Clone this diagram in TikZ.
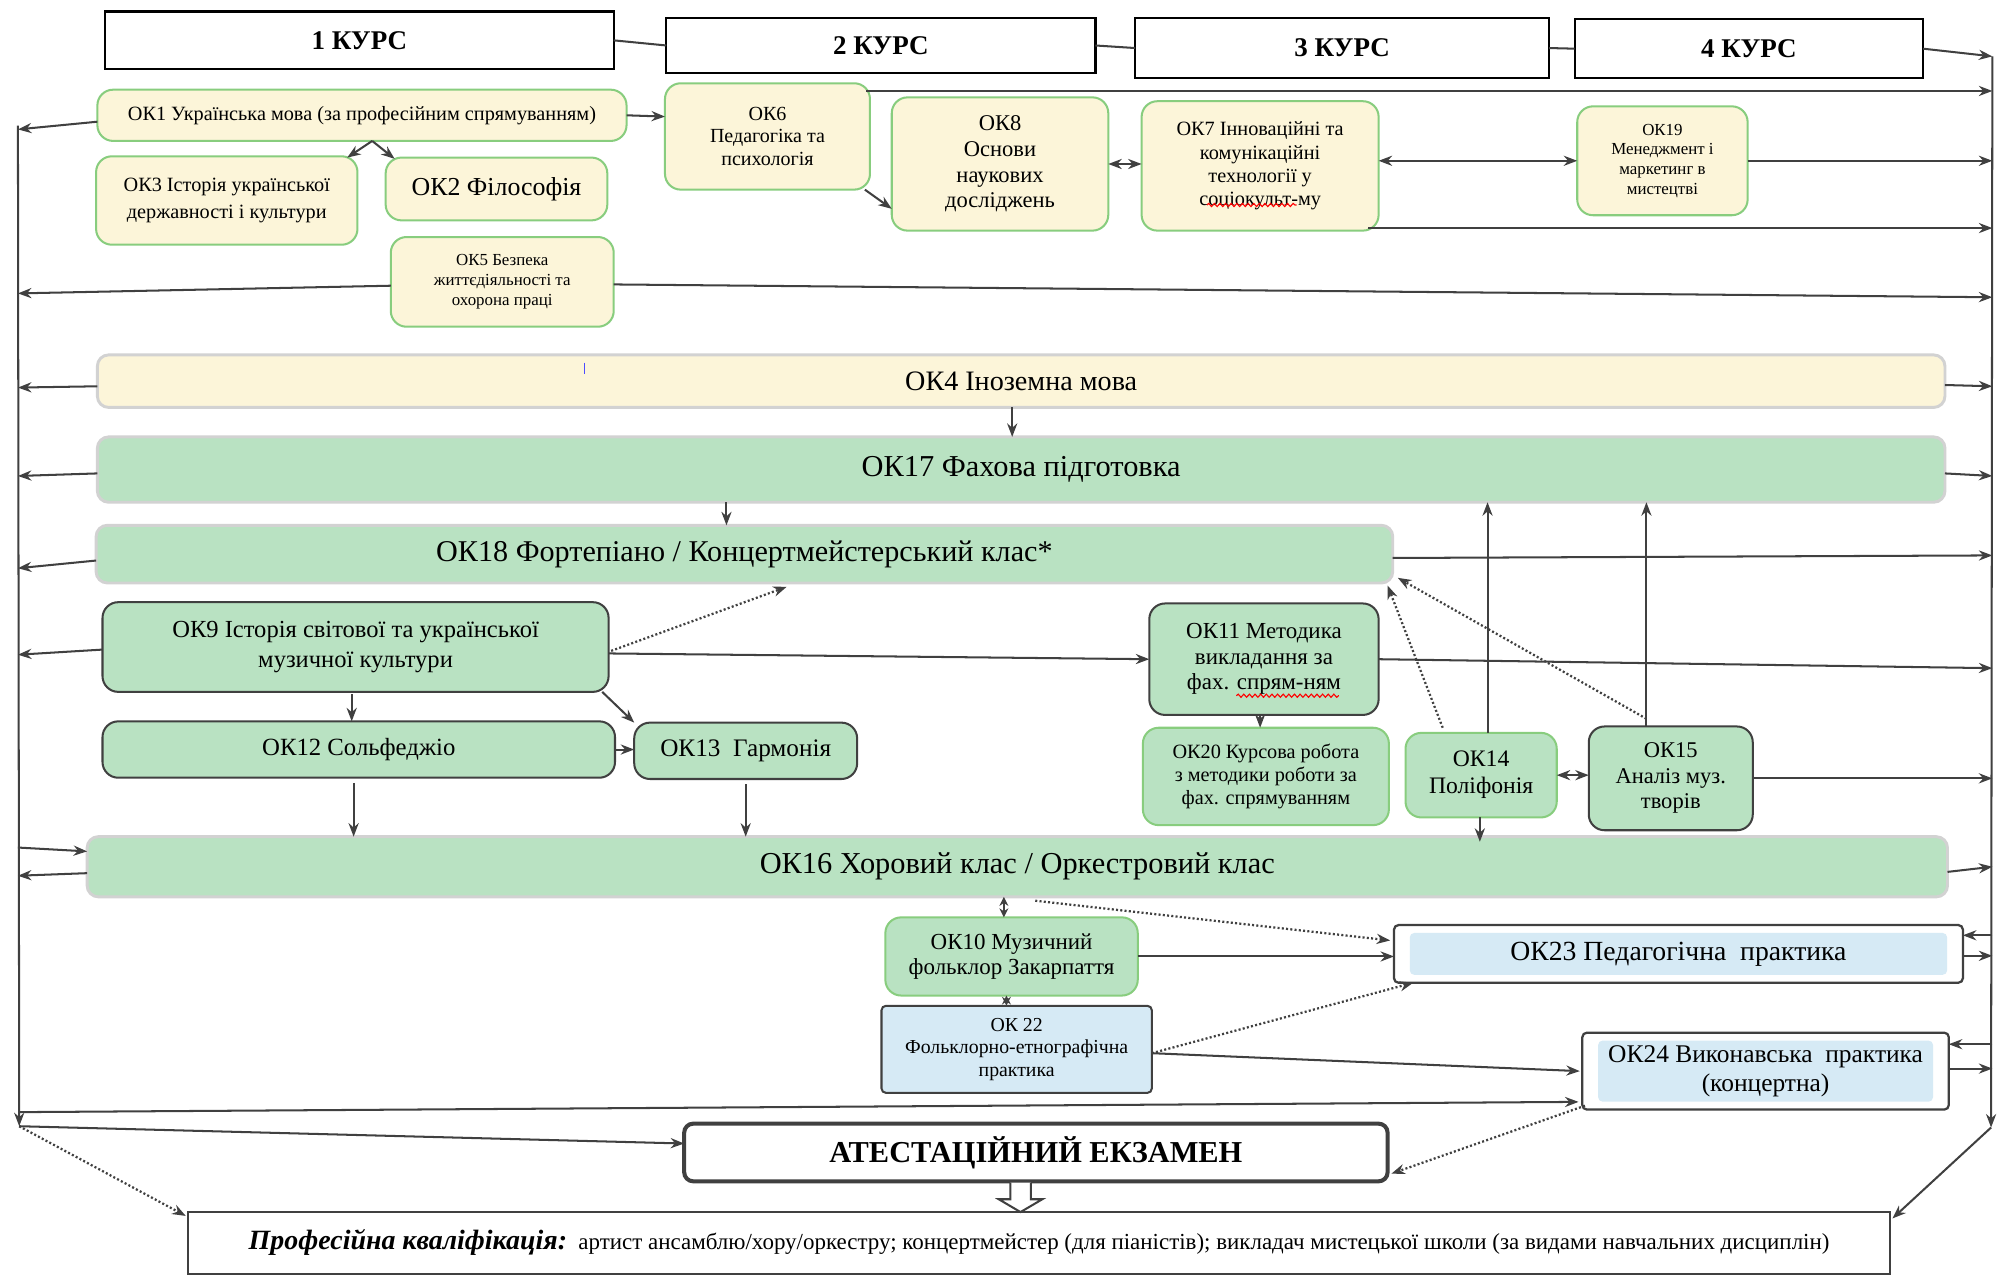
\documentclass[tikz,border=0pt]{standalone}
\usepackage{fontspec}
\setmainfont{Liberation Serif}
\usetikzlibrary{arrows.meta,calc,decorations.pathmorphing}
\definecolor{yfill}{HTML}{FCF5D9}
\definecolor{gborder}{HTML}{88CD7E}
\definecolor{gfill}{HTML}{B9E2C2}
\definecolor{bfill}{HTML}{D6EAF5}
\definecolor{lnc}{HTML}{404040}
\definecolor{barb}{HTML}{D2D2D2}
\newcommand\fsz[2]{\fontsize{#1}{#2}\selectfont}
\newcommand\OKbox[7]{\node[#1, minimum width={((#4)-(#2))*0.02cm}, minimum height={((#5)-(#3))*0.02cm}] (#6) at ({((#2)+(#4))/2},{((#3)+(#5))/2}) {#7};}
\tikzset{
  every node/.style={inner sep=0pt, outer sep=0pt, align=center},
  hdr/.style={draw=black, line width=1pt, fill=white, font=\bfseries\fsz{12}{14}},
  yb/.style={draw=gborder, line width=0.9pt, fill=yfill, rounded corners=7pt},
  gg/.style={draw=gborder, line width=0.9pt, fill=gfill, rounded corners=7pt},
  gk/.style={draw=lnc, line width=0.9pt, fill=gfill, rounded corners=7pt},
  ybar/.style={draw=barb, line width=1.3pt, fill=yfill, rounded corners=5pt},
  gbar/.style={draw=barb, line width=1.3pt, fill=gfill, rounded corners=5pt},
  bk/.style={draw=lnc, line width=0.9pt, fill=bfill, rounded corners=2pt},
  pk/.style={draw=lnc, line width=1pt, fill=white, rounded corners=2pt,
    path picture={\fill[bfill] ([xshift=7pt,yshift=-3.5pt]path picture bounding box.north west) rectangle ([xshift=-7pt,yshift=3.5pt]path picture bounding box.south east);}},
  exbox/.style={draw=lnc, line width=1.8pt, fill=white, rounded corners=4pt},
  prbox/.style={draw=lnc, line width=0.9pt, fill=white},
  conn/.style={draw=lnc, line width=0.9pt},
  arr/.style={conn, -{Stealth[length=6pt,width=4.5pt]}},
  darr/.style={conn, {Stealth[length=6pt,width=4.5pt]}-{Stealth[length=6pt,width=4.5pt]}},
  sdarr/.style={conn, {Stealth[length=4pt,width=4pt]}-{Stealth[length=4pt,width=4pt]}},
  dotarr/.style={arr, densely dotted, line width=1pt},
  wavy/.style={draw=red, line width=0.5pt, decorate, decoration={snake, amplitude=0.7pt, segment length=2.5pt}}
}
\begin{document}
\begin{tikzpicture}[x=0.02cm,y=-0.02cm]
\useasboundingbox (0,0) rectangle (1568,996);
\fill[white] (0,0) rectangle (1568,996);

% headers
\OKbox{hdr}{82}{9}{479}{54}{h1}{1 КУРС}
\OKbox{hdr}{520}{14}{855}{57}{h2}{2 КУРС}
\OKbox{hdr}{886}{14}{1209}{61}{h3}{3 КУРС}
\OKbox{hdr}{1229}{15}{1501}{61}{h4}{4 КУРС}

% top boxes
\OKbox{yb,font=\fsz{9}{11}}{76}{70}{489}{110}{ok1}{ОК1 Українська мова (за професійним спрямуванням)}
\OKbox{yb,font=\fsz{9}{12}}{75}{122}{279}{191}{ok3}{ОК3 Історія української\\державності і культури}
\OKbox{yb,font=\fsz{11.5}{13}}{301}{123}{474}{172}{ok2}{ОК2 Філософія}
\OKbox{yb,font=\fsz{7.5}{9}}{305}{185}{479}{255}{ok5}{ОК5 Безпека\\життєдіяльності та\\охорона праці}
\OKbox{yb,font=\fsz{8.9}{10}}{519}{65}{679}{148}{ok6}{ОК6\\Педагогіка та\\психологія}
\OKbox{yb,font=\fsz{10}{11.4}}{696}{76}{865}{180}{ok8}{ОК8\\Основи\\наукових\\досліджень}
\OKbox{yb,font=\fsz{9}{10.3}}{891}{79}{1076}{180}{ok7}{ОК7 Інноваційні та\\комунікаційні\\технології у\\соціокульт-му}
\OKbox{yb,font=\fsz{7.5}{8.7}}{1231}{83}{1364}{168}{ok19}{ОК19\\Менеджмент і\\маркетинг в\\мистецтві}

% bars
\OKbox{ybar,font=\fsz{12.5}{14}}{76}{277}{1518}{318}{ok4}{ОК4 Іноземна мова}
\OKbox{gbar,font=\fsz{13.5}{15}}{76}{341}{1518}{392}{ok17}{ОК17 Фахова підготовка}
\OKbox{gbar,font=\fsz{13.4}{15}}{75}{410}{1087}{455}{ok18}{ОК18 Фортепіано / Концертмейстерський клас*}
\OKbox{gbar,font=\fsz{13.5}{15}}{68}{653}{1520}{700}{ok16}{ОК16 Хоровий клас / Оркестровий клас}

% middle boxes
\OKbox{gk,font=\fsz{10.9}{13.5}}{80}{470}{475}{540}{ok9}{ОК9 Історія світової та української\\музичної культури}
\OKbox{gk,font=\fsz{11}{13}}{80}{563}{480}{607}{ok12}{ОК12 Сольфеджіо}
\OKbox{gk,font=\fsz{11.2}{13}}{495}{564}{669}{608}{ok13}{ОК13\ \ Гармонія}
\OKbox{gk,font=\fsz{10.2}{11.3}}{897}{471}{1076}{558}{ok11}{ОК11 Методика\\викладання за\\фах. спрям-ням}
\OKbox{gg,font=\fsz{9}{10}}{892}{568}{1084}{644}{ok20}{ОК20 Курсова робота\\з методики роботи за\\фах. спрямуванням}
\OKbox{gg,font=\fsz{10.5}{12}}{1097}{572}{1215}{638}{ok14}{ОК14\\Поліфонія}
\OKbox{gk,font=\fsz{10}{11.3}}{1240}{567}{1368}{648}{ok15}{ОК15\\Аналіз муз.\\творів}

% lower boxes
\OKbox{gg,font=\fsz{10.2}{11.3}}{691}{716}{888}{777}{ok10}{ОК10 Музичний\\фольклор Закарпаття}
\OKbox{bk,font=\fsz{8.8}{10}}{688}{785}{899}{853}{ok22}{ОК 22\\Фольклорно-етнографічна\\практика}
\OKbox{pk,font=\fsz{12.3}{13}}{1088}{722}{1532}{767}{ok23}{ОК23 Педагогічна\ \ практика}
\OKbox{pk,font=\fsz{11.3}{13}}{1235}{806}{1521}{866}{ok24}{ОК24 Виконавська\ \ практика\\(концертна)}
\OKbox{exbox,font=\bfseries\fsz{13.5}{15}}{534}{877}{1083}{922}{exam}{АТЕСТАЦІЙНИЙ ЕКЗАМЕН}
\OKbox{prbox,font=\fsz{10.2}{11}}{147}{946}{1475}{994}{prof}{{\bfseries\itshape\fsz{12.4}{13}Професійна кваліфікація:}\ \ артист ансамблю/хору/оркестру; концертмейстер (для піаністів); викладач мистецької школи (за видами навчальних дисциплін)}

% small marks
\draw[blue!70, line width=0.5pt] (456,283) -- (456,292);
\draw[wavy] (942,160) -- (1012,160);
\draw[wavy] (965,543) -- (1045,543);

% side verticals
\coordinate (LVt) at (14,98);
\coordinate (LVb) at (15,879);
\coordinate (RVt) at (1555,44);
\coordinate (RVb) at (1554,880);
\draw[arr] (LVt) -- (LVb);
\draw[arr] (RVt) -- (RVb);

% headers chain
\draw[conn] (h1.east) -- (h2.west);
\draw[conn] (h2.east) -- (h3.west);
\draw[conn] (h3.east) -- (h4.west);
\draw[arr] (h4.east) -- (RVt);

% top connectors
\draw[arr] ($(ok1.west)+(0,5)$) -- ($(ok1.west -| LVt)+(0,11)$);
\draw[arr] (ok1.east) -- ($(ok6.north west)+(0,26)$);
\coordinate (ok1b) at ($(ok1.south)+(8,0)$);
\draw[arr] (ok1b) -- ($(ok3.north east)+(-8,1)$);
\draw[arr] (ok1b) -- ($(ok2.north west)+(7,1)$);
\draw[arr] ($(ok6.south east)+(-4,0)$) -- ($(ok8.west)+(0,35)$);
\draw[darr] (ok8.east) -- (ok8.east -| ok7.west);
\draw[darr] (ok19.west -| ok7.east) -- (ok19.west);
\draw[arr] ($(ok6.north east)+(-3,6)$) -- ($(ok6.north east -| RVt)+(0,6)$);
\draw[arr] (ok19.east) -- (ok19.east -| RVt);
\draw[arr] ($(ok7.south east)+(-8,-2)$) -- ($(ok7.south east -| RVt)+(0,-2)$);
\draw[arr] ($(ok5.east)+(0,2)$) -- ($(ok5.east -| RVt)+(0,12)$);
\draw[arr] ($(ok5.west)+(0,3)$) -- ($(ok5.west -| LVt)+(0,9)$);

% bars
\draw[arr] ($(ok4.west)+(0,4)$) -- ($(ok4.west -| LVt)+(0,5)$);
\draw[arr] ($(ok4.east)+(0,3)$) -- ($(ok4.east -| RVt)+(0,4)$);
\draw[arr] ($(ok4.south)+(-7,0)$) -- ($(ok17.north)+(-7,0)$);
\draw[arr] ($(ok17.west)+(0,3)$) -- ($(ok17.west -| LVt)+(0,5)$);
\draw[arr] ($(ok17.east)+(0,3)$) -- ($(ok17.east -| RVt)+(0,5)$);
\coordinate (c17) at ($(ok17.south)+(-230,0)$);
\draw[arr] (c17) -- (c17 |- ok18.north);
\draw[arr] ($(ok18.west)+(0,5)$) -- ($(ok18.west -| LVt)+(0,11)$);
\draw[arr] ($(ok18.east)+(0,3)$) -- ($(ok18.east -| RVt)+(0,1)$);

% ok9 group
\draw[arr] ($(ok9.west)+(0,2)$) -- ($(ok9.west -| LVt)+(0,6)$);
\draw[dotarr] ($(ok9.east)+(2,3)$) -- ($(ok18.south west)+(539,3)$);
\draw[arr] ($(ok9.east)+(0,5)$) -- (ok11.west);
\coordinate (c9) at ($(ok9.south)+(-3,2)$);
\draw[arr] (c9) -- (c9 |- ok12.north);
\draw[arr] ($(ok9.south east)+(-5,0)$) -- (ok13.north west);
\draw[arr] (ok12.east) -- (ok12.east -| ok13.west);
\coordinate (c12) at ($(ok12.south)+(-4,4)$);
\draw[arr] (c12) -- (c12 |- ok16.north);
\coordinate (c13) at ($(ok13.south)+(0,4)$);
\draw[arr] (c13) -- (c13 |- ok16.north);

% ok11, ok14, ok15
\draw[arr] (ok11.east) -- ($(ok11.east -| RVt)+(0,7)$);
\coordinate (c11) at ($(ok11.south)+(-3,1)$);
\draw[arr] (c11) -- (c11 |- ok20.north);
\coordinate (c14u) at ($(ok14.north)+(5,0)$);
\draw[arr] (c14u) -- (c14u |- ok17.south);
\coordinate (c14d) at ($(ok14.south)+(-1,0)$);
\draw[arr] (c14d) -- ($(c14d |- ok16.north)+(0,4)$);
\draw[dotarr] ($(ok14.north west)+(29,-4)$) -- ($(ok18.south east)+(-4,2)$);
\draw[darr] (ok14.east) -- (ok14.east -| ok15.west);
\coordinate (c15u) at ($(ok15.north)+(-19,0)$);
\draw[arr] (c15u) -- (c15u |- ok17.south);
\draw[dotarr] ($(c15u)+(0,-6)$) -- ($(ok18.south east)+(4,-4)$);
\draw[arr] (ok15.east) -- (ok15.east -| RVt);

% ok16
\draw[arr] ($(ok16.west -| LVt)+(0,-15)$) -- ($(ok16.west)+(0,-12)$);
\draw[arr] ($(ok16.west)+(0,5)$) -- ($(ok16.west -| LVt)+(0,7)$);
\draw[arr] ($(ok16.east)+(0,4)$) -- (ok16.east -| RVt);

% ok10, ok22, practices
\coordinate (c10u) at ($(ok10.north)+(-6,0)$);
\draw[sdarr] (c10u) -- (c10u |- ok16.south);
\coordinate (c10d) at ($(ok10.south)+(-4,0)$);
\draw[sdarr] (c10d) -- (c10d |- ok22.north);
\draw[arr] (ok10.east) -- (ok10.east -| ok23.west);
\draw[dotarr] ($(ok16.south)+(14,3)$) -- ($(ok23.north west)+(-3,12)$);
\draw[dotarr] ($(ok22.east)+(0,3)$) -- ($(ok23.south west)+(15,0)$);
\draw[arr] ($(ok22.east)+(0,3)$) -- ($(ok24.west)+(-2,0)$);
\draw[arr] ($(ok23.north east -| RVt)+(0,8)$) -- ($(ok23.north east)+(0,8)$);
\draw[arr] ($(ok23.south east)+(0,-21)$) -- ($(ok23.south east -| RVt)+(0,-21)$);
\draw[arr] ($(ok24.north east -| RVt)+(0,9)$) -- ($(ok24.north east)+(0,9)$);
\draw[arr] ($(ok24.east)+(0,-2)$) -- ($(ok24.east -| RVt)+(0,-2)$);

% bottom
\coordinate (LVh) at ($(LVt)+(1,770)$);
\draw[arr] (LVh) -- ($(ok24.south west)+(-3,-6)$);
\draw[dotarr] ($(ok24.south west)+(2,-3)$) -- ($(exam.south east)+(3,-6)$);
\draw[arr] (LVb) -- ($(exam.west)+(0,-7)$);
\draw[dotarr] (LVb) -- ($(prof.north west)+(-2,3)$);
\draw[arr] (RVb) -- ($(prof.north east)+(2,5)$);
\coordinate (ea) at ($(exam.south)+(-12,0)$);
\draw[conn, fill=white] (ea) ++(-8,1) -- ++(0,13) -- ++(-9,0) -- ++(17,10) -- ++(17,-10) -- ++(-9,0) -- ++(0,-13);
\end{tikzpicture}
\end{document}
